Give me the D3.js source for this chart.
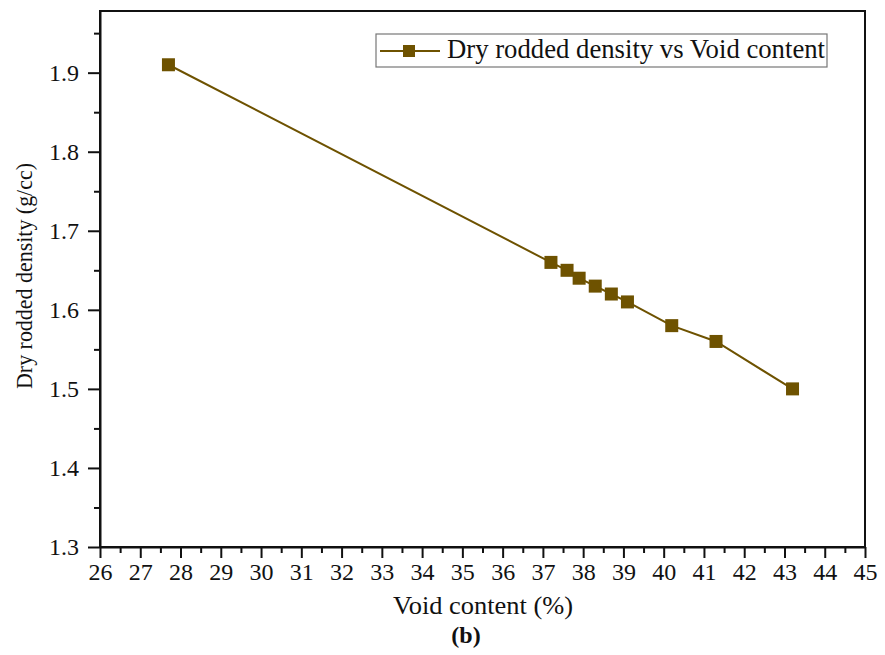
<!DOCTYPE html>
<html><head><meta charset="utf-8">
<script src="https://cdn.jsdelivr.net/npm/d3@7"></script>
<style>body{margin:0;background:#fff}svg{display:block}text{font-family:"Liberation Serif","Times New Roman",serif;fill:#111}</style>
</head><body><svg id="c" width="885" height="655"></svg>
<script>
const voidContent = [27.7, 37.2, 37.6, 37.9, 38.3, 38.7, 39.1, 40.2, 41.3, 43.2];
const density = [1.91, 1.66, 1.65, 1.64, 1.63, 1.62, 1.61, 1.58, 1.56, 1.50];
const xTicks = d3.range(26, 46, 1);
const yTicks = [1.3, 1.4, 1.5, 1.6, 1.7, 1.8, 1.9];
const seriesName = "Dry rodded density vs Void content";

const svg = d3.select("#c");
const L = 100, R = 865, T = 11, B = 547;
const x = d3.scaleLinear().domain([26, 45]).range([L, R]);
const y = d3.scaleLinear().domain([1.3, 1.978]).range([B, T]);
const col = "#6e5200";

// frame
svg.append("rect").attr("x", L).attr("y", T).attr("width", R - L).attr("height", B - T)
  .attr("fill", "none").attr("stroke", "#111").attr("stroke-width", 2);

// x axis
const xa = svg.append("g").attr("transform", `translate(0,${B})`)
  .call(d3.axisBottom(x).tickValues(xTicks).tickSize(11).tickSizeOuter(0).tickPadding(5).tickFormat(d3.format("d")));
xa.select(".domain").attr("stroke-width", 2).attr("stroke", "#111");
xa.selectAll(".tick line").attr("stroke-width", 2).attr("stroke", "#111");
xa.selectAll("text").attr("font-size", 24).attr("font-family", "Liberation Serif");
const xm = svg.append("g").attr("transform", `translate(0,${B})`)
  .call(d3.axisBottom(x).tickValues(d3.range(26.5, 45, 1)).tickSize(6).tickSizeOuter(0).tickFormat(""));
xm.select(".domain").remove();
xm.selectAll(".tick line").attr("stroke-width", 2).attr("stroke", "#111");

// y axis
const ya = svg.append("g").attr("transform", `translate(${L},0)`)
  .call(d3.axisLeft(y).tickValues(yTicks).tickSize(12).tickSizeOuter(0).tickPadding(9).tickFormat(d3.format(".1f")));
ya.select(".domain").attr("stroke-width", 2).attr("stroke", "#111");
ya.selectAll(".tick line").attr("stroke-width", 2).attr("stroke", "#111");
ya.selectAll("text").attr("font-size", 24).attr("font-family", "Liberation Serif");
const ym = svg.append("g").attr("transform", `translate(${L},0)`)
  .call(d3.axisLeft(y).tickValues([1.35, 1.45, 1.55, 1.65, 1.75, 1.85, 1.95]).tickSize(6).tickSizeOuter(0).tickFormat(""));
ym.select(".domain").remove();
ym.selectAll(".tick line").attr("stroke-width", 2).attr("stroke", "#111");

// line
const pts = voidContent.map((v, i) => [v, density[i]]);
svg.append("path").datum(pts)
  .attr("d", d3.line().x(d => x(d[0])).y(d => y(d[1])))
  .attr("fill", "none").attr("stroke", col).attr("stroke-width", 2);
const ms = 13;
svg.append("g").selectAll("rect").data(pts).join("rect")
  .attr("x", d => x(d[0]) - ms / 2).attr("y", d => y(d[1]) - ms / 2)
  .attr("width", ms).attr("height", ms).attr("fill", col);

// legend
const lg = svg.append("g");
lg.append("rect").attr("x", 376).attr("y", 34).attr("width", 451).attr("height", 33)
  .attr("fill", "#fff").attr("stroke", "#777").attr("stroke-width", 1.2);
lg.append("line").attr("x1", 380).attr("x2", 440).attr("y1", 51).attr("y2", 51)
  .attr("stroke", col).attr("stroke-width", 2);
lg.append("rect").attr("x", 409 - 6).attr("y", 51 - 6).attr("width", 12).attr("height", 12).attr("fill", col);
lg.append("text").attr("x", 447).attr("y", 58).attr("font-size", 26.5)
  .attr("textLength", 378).attr("lengthAdjust", "spacingAndGlyphs").text(seriesName);

// labels
svg.append("text").attr("x", 483).attr("y", 614).attr("text-anchor", "middle")
  .attr("font-size", 25).attr("textLength", 180).attr("lengthAdjust", "spacingAndGlyphs").text("Void content (%)");
svg.append("text").attr("x", 466).attr("y", 643).attr("text-anchor", "middle")
  .attr("font-size", 24).attr("font-weight", "bold").text("(b)");
svg.append("text").attr("transform", `translate(32,276) rotate(-90)`).attr("text-anchor", "middle")
  .attr("font-size", 24).attr("textLength", 226).attr("lengthAdjust", "spacingAndGlyphs")
  .text("Dry rodded density (g/cc)");
</script></body></html>
